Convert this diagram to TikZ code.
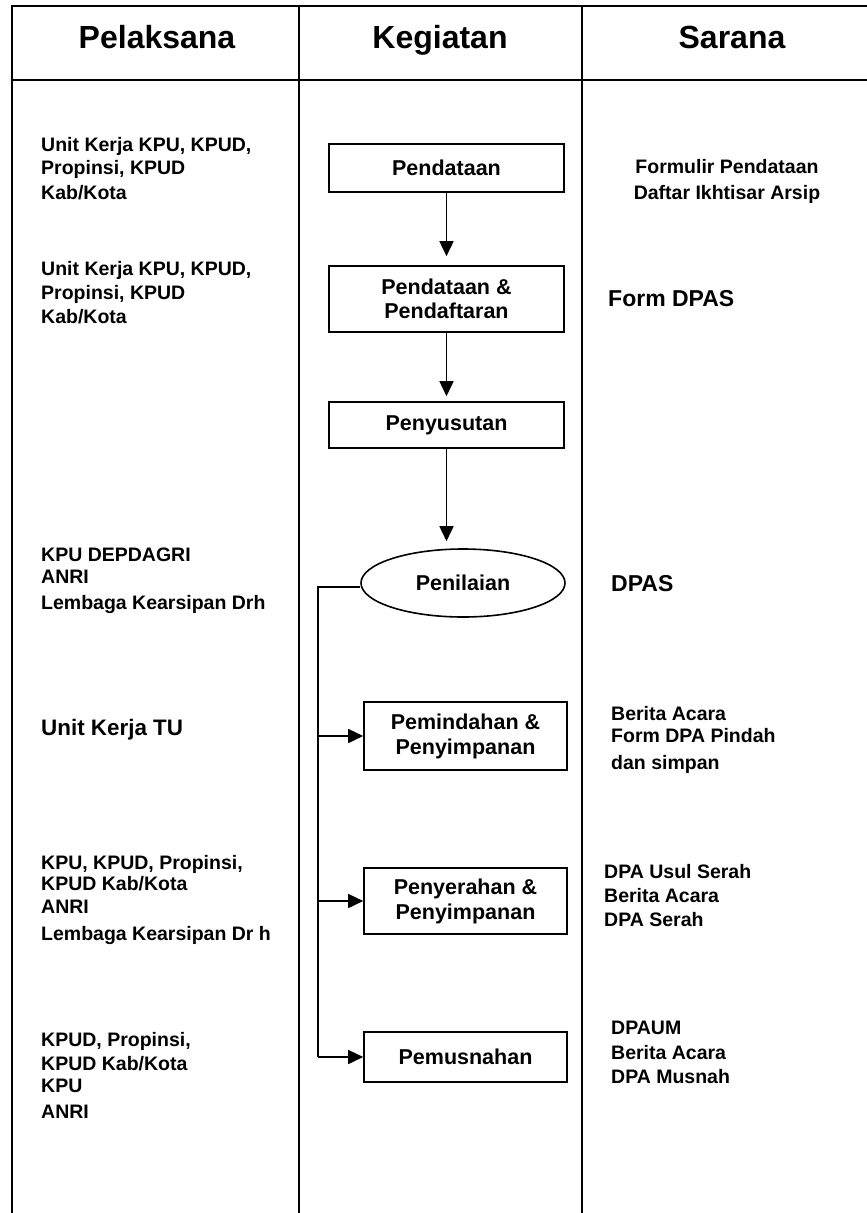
\documentclass[tikz,border=0pt]{standalone}
\usepackage{fontspec}
\setmainfont{Liberation Sans}
\usetikzlibrary{arrows.meta,shapes.geometric}

\begin{document}
\begin{tikzpicture}[x=1pt,y=-1pt,
	garis/.style={line width=2.5pt},
	judul/.style={anchor=base,inner sep=0pt,font=\fontsize{32}{38}\selectfont\bfseries},
	teks/.style={anchor=north west,inner sep=0pt,align=left,font=\fontsize{19.5}{23}\selectfont\bfseries},
	kotak/.style={draw,line width=1.6pt,inner sep=0pt,align=center,font=\fontsize{21.5}{24}\selectfont\bfseries},
	elips/.style={draw,ellipse,line width=1.6pt,inner sep=0pt,font=\fontsize{21.5}{24}\selectfont\bfseries},
	panah/.style={line width=1.6pt,-{Triangle[width=14pt,length=15pt]}}]
		\useasboundingbox (0,0) rectangle (867,1213);
		
		% tabel
		\draw[garis] (12,1240)--(12,6)--(900,6);
		\draw[garis] (12,80)--(900,80);
		\draw[garis] (299,6)--(299,1240);
		\draw[garis] (582,6)--(582,1240);
		
		\node[judul] (hPel) at (157,48) {Pelaksana};
		\node[judul] (hKeg) at (440,48) {Kegiatan};
		\node[judul] (hSar) at (732,48) {Sarana};
		
		% pelaksana
		\node[teks] (p1) at (41,137) {Unit Kerja KPU, KPUD,\\Propinsi, KPUD\\[2pt]Kab/Kota};
		\node[teks] (p2) at (41,261) {Unit Kerja KPU, KPUD,\\[1pt]Propinsi, KPUD\\[1pt]Kab/Kota};
		\node[teks] (p3) at (41,548) {KPU DEPDAGRI\\[-1pt]ANRI\\[3pt]Lembaga Kearsipan Drh};
		\node[teks,font=\fontsize{22.4}{26}\selectfont\bfseries] (p4) at (41,719) {Unit Kerja TU};
		\node[teks] (p5) at (41,855) {KPU, KPUD, Propinsi,\\[-2pt]KPUD Kab/Kota\\ANRI\\[4pt]Lembaga Kearsipan Dr h};
		\node[teks] (p6) at (41,1032) {KPUD, Propinsi,\\[1pt]KPUD Kab/Kota\\[-1pt]KPU\\[3pt]ANRI};
		
		% kegiatan
		\node[kotak,minimum width=235pt,minimum height=48pt] (k1) at (446.5,168) {Pendataan};
		\node[kotak,minimum width=235pt,minimum height=66pt] (k2) at (446.5,299) {Pendataan \&\\Pendaftaran};
		\node[kotak,minimum width=235pt,minimum height=46pt] (k3) at (446.5,425) {Penyusutan};
		\node[elips,minimum width=204pt,minimum height=68pt] (pen) at (463,583) {Penilaian};
		\node[kotak,minimum width=203pt,minimum height=68pt,font=\fontsize{21.5}{25}\selectfont\bfseries] (k4) at (465.5,736) {Pemindahan \&\\Penyimpanan};
		\node[kotak,minimum width=203pt,minimum height=66pt,font=\fontsize{21.5}{25}\selectfont\bfseries] (k5) at (465.5,901) {Penyerahan \&\\Penyimpanan};
		\node[kotak,minimum width=203pt,minimum height=50pt] (k6) at (465.5,1057) {Pemusnahan};
		
		\draw[panah,shorten >=9pt] (k1.south)--(k1.south |- k2.north);
		\draw[panah,shorten >=5pt] (k2.south)--(k2.south |- k3.north);
		\draw[panah,shorten >=7pt] (k3.south)--(k3.south |- pen.north);
		
		\coordinate (belok) at (318,587);
		\draw[line width=1.6pt] (pen.west |- belok)--(belok)--(belok |- k6.west);
		\draw[panah] (belok |- k4.west)--(k4.west);
		\draw[panah] (belok |- k5.west)--(k5.west);
		\draw[panah] (belok |- k6.west)--(k6.west);
		
		% sarana
		\node[teks,anchor=north,align=center,font=\fontsize{19.5}{26}\selectfont\bfseries] (s1) at (727,159) {Formulir Pendataan\\Daftar Ikhtisar Arsip};
		\node[teks,font=\fontsize{23}{26}\selectfont\bfseries] (s2) at (608,290) {Form DPAS};
		\node[teks,font=\fontsize{23}{26}\selectfont\bfseries] (s3) at (611,575) {DPAS};
		\node[teks] (s4) at (611,706) {Berita Acara\\[-1pt]Form DPA Pindah\\[4pt]dan simpan};
		\node[teks,font=\fontsize{19.5}{24}\selectfont\bfseries] (s5) at (604,864) {DPA Usul Serah\\Berita Acara\\DPA Serah};
		\node[teks,font=\fontsize{19.5}{24}\selectfont\bfseries] (s6) at (611,1021) {DPAUM\\[1pt]Berita Acara\\DPA Musnah};
	\end{tikzpicture}
\end{document}
